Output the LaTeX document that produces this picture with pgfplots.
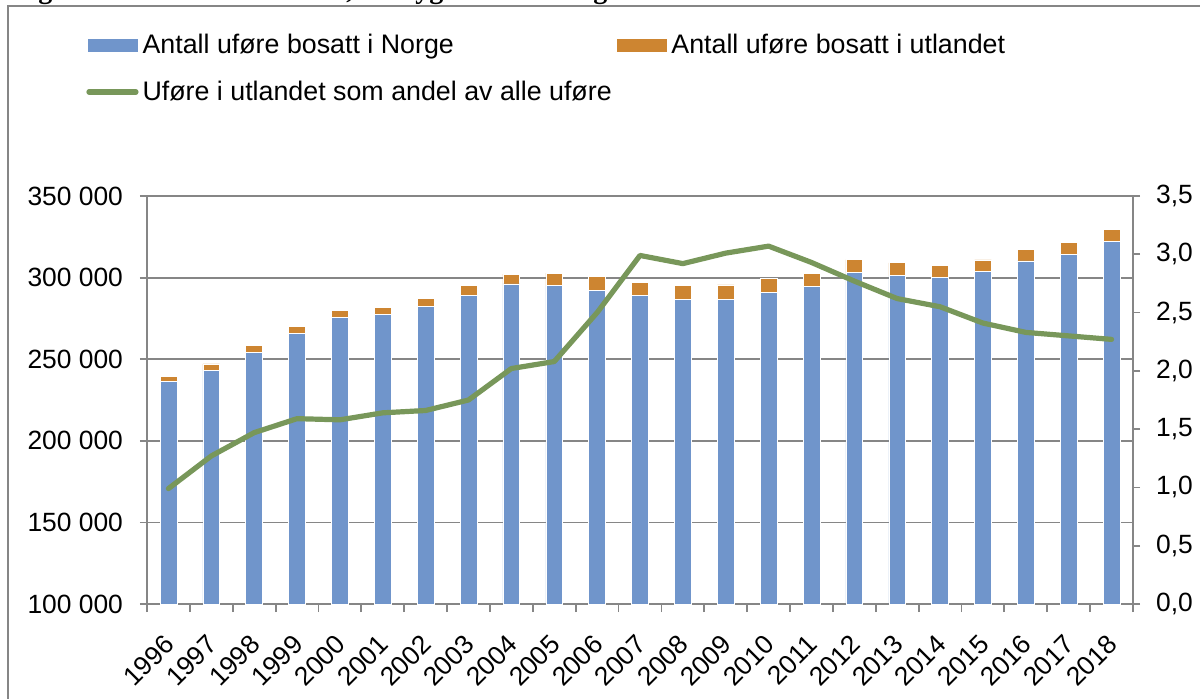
\documentclass[border=0pt]{standalone}
\usepackage{fontspec}
\setmainfont{Liberation Sans}
\newfontfamily\titlefont{Liberation Serif}
\usepackage{pgfplots}
\usepackage{pgfplotstable}
\pgfplotsset{compat=1.18}

\definecolor{barblue}{RGB}{112,149,203}
\definecolor{barorange}{RGB}{205,133,49}
\definecolor{linegreen}{RGB}{120,151,90}
\definecolor{axgray}{RGB}{134,134,134}

\pgfplotsset{
  swatch/.style={legend image code/.code={\fill[##1] (0pt,-3.5pt) rectangle (25.5pt,3.5pt);}},
  lineswatch/.style={legend image code/.code={\draw[##1] (1pt,0pt) -- (24.5pt,0pt);}},
  common/.style={
    at={(0pt,0pt)}, anchor=south west,
    scale only axis, width=493pt, height=204pt,
    xmin=-0.5, xmax=22.5,
    axis line style={axgray, line width=0.9pt},
    tick style={axgray, line width=0.9pt},
    tick align=outside,
    major tick length=3.5pt,
    tick label style={font=\fontsize{13.2}{15}\selectfont},
  },
}

% antall ufore (Norge, utlandet) og andel i utlandet (prosent)
\pgfplotstableread{
year norge utland andel
1996 236600 2900 0.99
1997 243000 4100 1.27
1998 254400 3900 1.47
1999 265900 4300 1.59
2000 275700 4300 1.58
2001 277300 4500 1.64
2002 282200 4900 1.66
2003 289300 6000 1.75
2004 296100 6100 2.02
2005 295300 7500 2.08
2006 292000 8800 2.50
2007 288900 8200 2.99
2008 286700 8600 2.92
2009 286700 8800 3.01
2010 290800 8500 3.07
2011 294400 8000 2.93
2012 303000 8000 2.77
2013 301200 7900 2.62
2014 300200 7100 2.55
2015 303900 6900 2.41
2016 310200 6900 2.33
2017 314300 7300 2.30
2018 322400 7200 2.27
}\datatable

\begin{document}
\begin{tikzpicture}
\useasboundingbox (-73.5pt,-47pt) rectangle (526.5pt,302pt);
\draw[axgray, line width=1pt] (-69.5pt,-60pt) rectangle (560pt,299pt);

% rest av tittelen over figuren (avkuttet)
\begin{scope}[every node/.style={anchor=base west, inner sep=0pt,
    font=\titlefont\bfseries\fontsize{14}{16}\selectfont}]
  \node at (-54.5pt,303pt) {g};
  \node at (99.5pt,303pt) {,};
  \node at (134pt,303pt) {yg};
  \node at (223pt,303pt) {g};
\end{scope}

\begin{axis}[
  common,
  ymin=100000, ymax=350000,
  ytick={100000,150000,...,350000},
  scaled y ticks=false,
  yticklabel style={xshift=-5pt},
  axis lines*=left,
  xtick={0,...,22},
  xticklabels={1996,1997,1998,1999,2000,2001,2002,2003,2004,2005,2006,2007,
    2008,2009,2010,2011,2012,2013,2014,2015,2016,2017,2018},
  minor xtick={-0.5,0.5,...,22.5},
  minor tick length=4pt,
  major x tick style={draw=none},
  xticklabel style={xshift=3pt, yshift=-12pt, rotate=45, anchor=east},
  ymajorgrids, grid style={axgray, line width=0.9pt},
  /pgf/number format/fixed,
  /pgf/number format/1000 sep={\ },
  /pgf/number format/assume math mode=true,
  ybar stacked, bar width=8.4pt,
  legend columns=2,
  legend cell align=left,
  legend style={at={(-0.0619,1.407)}, anchor=north west, draw=none, fill=none,
    inner sep=0pt, font=\fontsize{13.4}{15}\selectfont, row sep=8pt,
    nodes={inner sep=2pt},
    /tikz/every even column/.append style={column sep=0pt}},
]
\addplot[swatch, fill=barblue, draw=white, line width=0.3pt]
  table[x expr=\coordindex, y=norge] {\datatable};
\addlegendentry{Antall uføre bosatt i Norge}
\addplot[swatch, fill=barorange, draw=white, line width=0.3pt]
  table[x expr=\coordindex, y=utland] {\datatable};
\addlegendentry{Antall uføre bosatt i utlandet}
\addlegendimage{lineswatch, linegreen, line width=2.6pt, line cap=round}
\addlegendentry{Uføre i utlandet som andel av alle uføre}
\end{axis}

\begin{axis}[
  common,
  ymin=0, ymax=3.5,
  ytick={0,0.5,...,3.5},
  axis y line*=right, axis x line=none,
  yticklabel style={xshift=4.5pt},
  /pgf/number format/fixed,
  /pgf/number format/fixed zerofill,
  /pgf/number format/precision=1,
  /pgf/number format/use comma,
  /pgf/number format/assume math mode=true,
]
\addplot[linegreen, line width=2.6pt, line join=round, line cap=round]
  table[x expr=\coordindex, y=andel] {\datatable};
\end{axis}
\end{tikzpicture}
\end{document}
